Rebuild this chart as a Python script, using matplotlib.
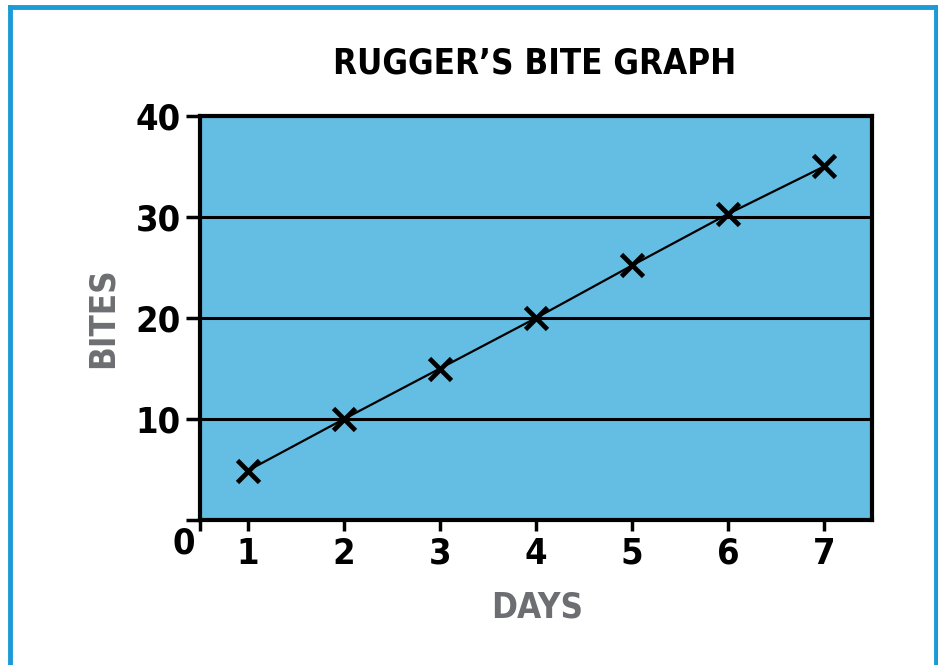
import matplotlib.pyplot as plt
from matplotlib.lines import Line2D

days = [1, 2, 3, 4, 5, 6, 7]
bites = [4.9, 10, 15, 20, 25.2, 30.3, 35]
yticks = [10, 20, 30, 40]

plt.rcParams['font.family'] = ['Liberation Sans Narrow', 'DejaVu Sans']
plt.rcParams['font.stretch'] = 'condensed'
plt.rcParams['font.weight'] = 'bold'

fig = plt.figure(figsize=(9.38, 6.65), dpi=100)
ax = fig.add_axes([200/938, 145/665, 672/938, 404/665])
ax.set_facecolor('#64bde3')

for v in yticks[:-1]:
    ax.axhline(v, color='black', lw=2.2, zorder=1)

ax.plot(days, bites, color='black', lw=1.6, marker='x', markersize=16,
        markeredgewidth=3.4, zorder=3)

ax.set_xlim(0.5, 7.5)
ax.set_ylim(0, 40)
ax.set_xticks([0.5] + days)
ax.set_xticklabels([''] + [str(d) for d in days])
ax.set_yticks([0] + yticks)
ax.set_yticklabels([''] + [str(v) for v in yticks])
ax.tick_params(axis='x', length=8, width=2.5, labelsize=26, pad=4)
ax.tick_params(axis='y', length=10, width=2.5, labelsize=26, pad=4)
for s in ax.spines.values():
    s.set_linewidth(3)

ax.text(-0.007, -0.015, '0', transform=ax.transAxes, ha='right', va='top',
        fontsize=26, fontweight='bold')

fig.text(535/938, 1 - 63/665, "RUGGER\u2019S BITE GRAPH", ha='center', va='center',
         fontsize=25, fontweight='bold')
fig.text(537/938, 1 - 607/665, 'DAYS', ha='center', va='center',
         fontsize=25, fontweight='bold', color='#6d6e71')
fig.text(103/938, 1 - 318/665, 'BITES', ha='center', va='center', rotation=90,
         fontsize=25, fontweight='bold', color='#6d6e71')

# blue frame (left, top, right)
c = '#1a9ad6'
fig.add_artist(Line2D([10/938, 10/938], [0, 1 - 7/665], color=c, lw=3.5))
fig.add_artist(Line2D([10/938, 936/938], [1 - 7/665, 1 - 7/665], color=c, lw=3.5))
fig.add_artist(Line2D([936/938, 936/938], [0, 1 - 7/665], color=c, lw=3.5))

fig.savefig('out.png', dpi=100)
